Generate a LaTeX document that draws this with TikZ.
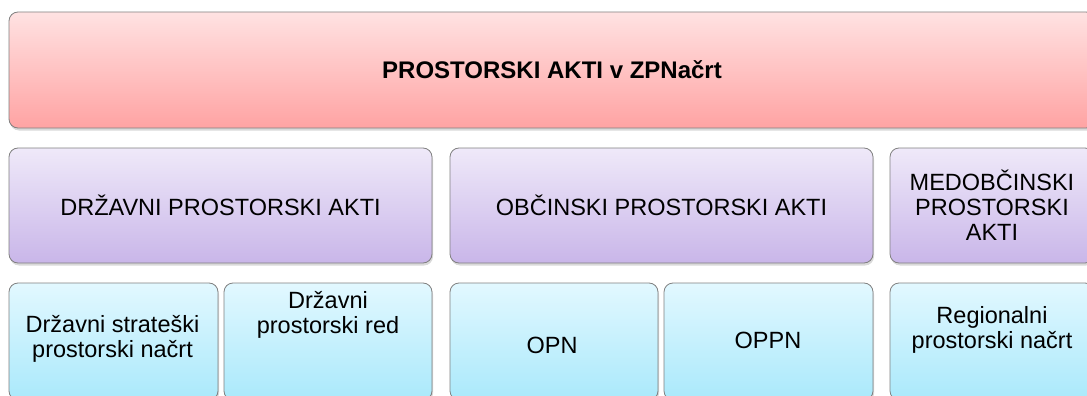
\documentclass[tikz,border=0pt]{standalone}
\usepackage{fontspec}
\setmainfont{Liberation Sans}
\usepackage{tikz}
\usetikzlibrary{shadows}

\definecolor{pinkTop}{RGB}{255,226,226}
\definecolor{pinkBot}{RGB}{255,163,163}
\definecolor{lilacTop}{RGB}{239,233,249}
\definecolor{lilacBot}{RGB}{201,182,233}
\definecolor{skyTop}{RGB}{226,248,255}
\definecolor{skyBot}{RGB}{170,233,251}

\begin{document}
\begin{tikzpicture}[x=1pt, y=-1pt,
	box/.style={draw=black!50, line width=0.8pt, rounded corners=9pt, inner sep=0pt, outer sep=0pt,
		drop shadow={shadow xshift=1pt, shadow yshift=-2.5pt, opacity=0.3}},
	rdeca/.style={box, top color=pinkTop, bottom color=pinkBot},
	vijolicna/.style={box, top color=lilacTop, bottom color=lilacBot},
	modra/.style={box, top color=skyTop, bottom color=skyBot},
	txt/.style={align=center, font=\fontsize{23.5}{25}\selectfont}]
	
	\useasboundingbox (0,0) rectangle (1087,396);
	
	\node[rdeca, minimum width=1086pt, minimum height=116pt] (top) at (552,70)
		{\fontsize{24}{26}\selectfont\bfseries PROSTORSKI AKTI v ZPNačrt};
	
	\node[vijolicna, txt, minimum width=423pt, minimum height=115pt] (drz) at (220.5,205.5) {DRŽAVNI PROSTORSKI AKTI};
	\node[vijolicna, txt, minimum width=423pt, minimum height=115pt] (obc) at (661.5,205.5) {OBČINSKI PROSTORSKI AKTI};
	\node[vijolicna, txt, minimum width=204pt, minimum height=115pt] (med) at (992,205.5) {MEDOBČINSKI\\PROSTORSKI\\AKTI};
	
	\node[modra, minimum width=209pt, minimum height=117pt] (dsp) at (113.5,341.5) {};
	\node[modra, minimum width=208pt, minimum height=117pt] (dpr) at (328,341.5) {};
	\node[modra, minimum width=208pt, minimum height=117pt] (opn) at (554,341.5) {};
	\node[modra, minimum width=209pt, minimum height=117pt] (oppn) at (768.5,341.5) {};
	\node[modra, minimum width=204pt, minimum height=117pt] (rpn) at (992,341.5) {};
	
	%\node[txt] at (dsp.center) {...};
	\node[txt] (dspt) at (112.5,339) {Državni strateški\\prostorski načrt};
	\node[txt] (dprt) at (328,315) {Državni\\prostorski red};
	\node[txt] (opnt) at (552,345) {OPN};
	\node[txt] (oppnt) at (768,340) {OPPN};
	\node[txt] (rpnt) at (992,330) {Regionalni\\prostorski načrt};
	
\end{tikzpicture}
\end{document}
